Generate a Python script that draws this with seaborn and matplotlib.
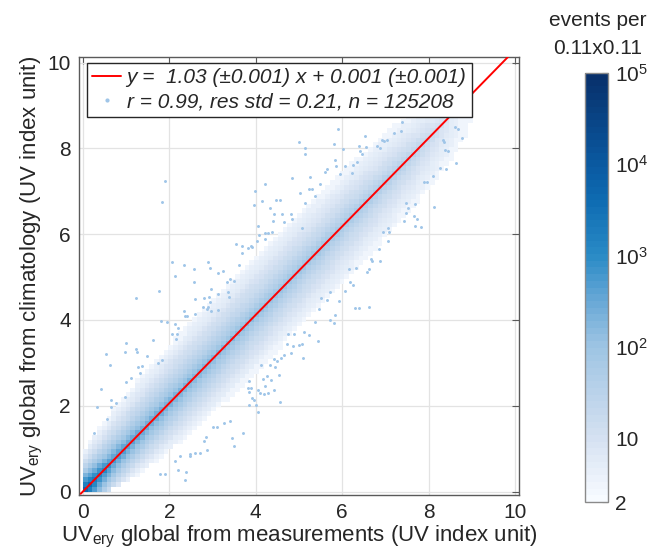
import numpy as np
import pandas as pd
import matplotlib
matplotlib.use("Agg")
import matplotlib.pyplot as plt
import seaborn as sns
from matplotlib.colors import LogNorm, LinearSegmentedColormap
from matplotlib.lines import Line2D

# ---------------- data ----------------
bin_width = 0.11
# density along the 1:1 diagonal (position s = (x+y)/2)
ridge_s = [0.0, 0.3, 0.7, 1.5, 2.5, 3.5, 4.5, 5.5, 6.5, 7.5, 8.2, 8.7, 9.1]
core_peak = [5000, 1500, 500, 250, 150, 100, 70, 50, 35, 20, 6, 0, 0]      # narrow ridge on the line
halo_level = [800, 350, 180, 120, 90, 70, 55, 45, 35, 22, 12, 4, 2]       # broad band around it
spread_up = [0.35, 0.8, 1.05, 1.25, 1.35, 1.4, 1.4, 1.35, 1.3, 1.2, 1.05, 0.75, 0.3]
spread_down = [0.3, 0.6, 0.9, 1.15, 1.3, 1.35, 1.35, 1.35, 1.3, 1.2, 1.05, 0.75, 0.3]

fit_slope = 1.03
fit_intercept = 0.001
fit_xrange = [-0.05, 10.1]

legend_fit = "y =  1.03 (\u00b10.001) x + 0.001 (\u00b10.001)"
legend_stats = "r = 0.99, res std = 0.21, n = 125208"

# isolated events (bins with a single event)
single_x = [1.90, 1.82, 4.84, 5.00, 3.98, 4.22, 4.15, 3.96, 4.46, 4.57, 4.32, 4.43, 4.60, 4.82, 4.39,
            4.65, 4.84, 4.06, 4.08, 4.22, 4.28, 4.38, 4.22, 4.02, 3.54, 3.68, 3.88, 3.83, 3.91, 3.68,
            3.62, 2.06, 2.34, 2.12, 2.58, 2.58, 2.90, 2.93, 3.12, 3.25, 3.33, 3.41, 3.50, 1.76, 1.22,
            2.96, 3.13, 2.92, 2.81, 2.59, 3.37, 3.36,
            2.35, 2.41, 2.37, 2.60, 2.77, 2.90, 2.87, 2.96, 2.93, 3.13, 1.81, 1.95, 2.12, 2.19, 2.07,
            2.18, 2.16, 1.63, 1.00, 0.53, 0.97, 1.24, 1.25, 1.48, 1.73, 1.82, 0.63, 1.28, 1.36, 1.32,
            1.00, 1.12, 0.43, 0.98, 0.64, 0.76, 0.65, 0.32, 0.56, 0.26,
            4.74, 4.89, 4.72, 4.86, 4.99, 4.81, 4.65, 4.59, 4.49, 4.42, 4.33, 4.44, 4.54, 4.11, 4.16,
            4.27, 4.35, 4.22, 4.05, 4.10, 4.18, 4.28, 4.43, 3.84, 3.81, 3.90, 3.85, 3.91, 3.96, 3.85,
            4.00, 4.05, 4.55, 3.02, 3.10, 3.27, 3.41, 3.71, 3.44, 3.49, 2.85, 2.80, 2.87, 2.70, 2.59,
            2.48, 2.48, 2.25, 2.13, 2.21, 2.39, 2.36, 1.79, 1.91,
            5.91, 7.39, 7.19, 7.36, 6.92, 6.97, 7.03, 6.52, 6.38, 6.54, 6.80, 6.88, 5.81, 6.01, 5.13,
            5.13, 6.41, 6.45, 6.35, 6.26, 6.06, 5.84, 5.86, 5.95, 6.22, 5.64, 5.60, 5.26, 5.48, 5.24,
            5.30, 5.03, 5.36, 5.13, 5.07,
            8.34, 8.36, 8.61, 8.68, 8.78, 8.38, 8.44, 8.64, 8.27, 8.41, 8.11, 7.90, 7.96, 8.12, 7.48,
            7.53, 7.69, 7.47, 7.65, 7.74, 7.69, 7.82, 7.43, 7.05, 7.08, 6.95,
            7.06, 6.84, 6.66, 6.70, 6.88, 6.16, 6.31, 6.62, 6.58, 6.18, 6.24, 6.07, 5.72, 5.51, 5.64,
            5.93, 5.47, 6.30, 6.38, 6.63, 5.84, 5.72, 5.80, 5.36, 5.11, 5.22, 5.06, 5.45, 5.10]
single_y = [7.24, 6.75, 7.30, 8.14, 7.01, 7.16, 6.78, 6.67, 6.79, 6.79, 6.60, 6.46, 6.46, 6.46, 6.31,
            6.29, 6.36, 6.18, 5.98, 6.02, 6.02, 6.04, 5.89, 5.83, 5.78, 5.73, 5.72, 5.67, 5.69, 5.55,
            5.29, 5.34, 5.28, 5.03, 5.19, 4.89, 5.35, 5.22, 5.10, 5.14, 4.89, 4.96, 4.90, 4.67, 4.51,
            4.72, 4.60, 4.54, 4.51, 4.50, 4.54, 4.66,
            4.22, 4.09, 4.09, 4.15, 4.30, 4.31, 4.25, 4.21, 4.42, 4.23, 3.98, 3.95, 3.90, 3.82, 3.68,
            3.68, 3.56, 3.54, 3.47, 3.21, 3.25, 3.32, 3.26, 3.15, 3.00, 3.07, 2.94, 2.90, 2.92, 2.77,
            2.55, 2.65, 2.40, 2.20, 2.13, 2.06, 1.96, 1.98, 1.68, 1.36,
            3.67, 3.68, 3.43, 3.40, 3.42, 3.22, 3.18, 3.11, 3.04, 3.10, 2.96, 2.90, 2.72, 2.94, 2.62,
            2.69, 2.59, 2.47, 2.37, 2.29, 2.27, 2.29, 2.36, 2.58, 2.41, 2.41, 2.31, 2.17, 2.13, 2.02,
            2.02, 1.85, 2.09, 1.50, 1.50, 1.59, 1.65, 1.36, 1.25, 1.07, 1.27, 1.18, 0.96, 0.91, 0.91,
            0.87, 0.83, 0.82, 0.72, 0.50, 0.45, 0.26, 0.42, 0.42,
            8.46, 8.62, 8.37, 8.40, 8.20, 8.18, 8.19, 8.28, 8.05, 8.04, 8.06, 8.00, 8.11, 7.98, 8.01,
            7.86, 7.93, 7.86, 7.69, 7.61, 7.58, 7.73, 7.60, 7.40, 7.42, 7.52, 7.44, 7.33, 7.18, 7.06,
            7.06, 6.96, 6.89, 6.72, 6.14,
            8.20, 8.15, 8.49, 8.46, 8.24, 7.97, 7.94, 7.67, 7.54, 7.51, 7.35, 7.21, 7.22, 6.64, 6.72,
            6.62, 6.71, 6.49, 6.43, 6.35, 6.19, 6.17, 6.30, 6.15, 6.04, 6.05,
            5.84, 5.65, 5.42, 5.38, 5.38, 5.19, 5.20, 5.19, 5.11, 4.89, 4.81, 4.68, 4.65, 4.51, 4.47,
            4.44, 4.26, 4.27, 4.27, 4.30, 4.12, 4.00, 3.92, 3.96, 3.72, 3.65, 3.43, 3.51, 3.12]

cbar_ticks = [2, 10, 100, 1000, 10000, 100000]
cbar_ticklabels = ["2", "10", "$10^2$", "$10^3$", "$10^4$", "$10^5$"]
axis_ticks = [0, 2, 4, 6, 8, 10]

# ---------------- build the binned table ----------------
edges = np.round(np.arange(0, 10.0 + 1e-9, bin_width), 4)
centers = edges[:-1] + bin_width / 2
gx, gy = np.meshgrid(centers, centers)
s = (gx + gy) / 2
d = gy - (fit_slope * gx + fit_intercept)
core = np.interp(s, ridge_s, core_peak, right=0)
halo = np.interp(s, ridge_s, halo_level, right=0)
hw = np.where(d >= 0, np.interp(s, ridge_s, spread_up), np.interp(s, ridge_s, spread_down))
frac = np.abs(d) / hw
halo_c = np.where(halo >= 2.5, halo * (2.5 / np.maximum(halo, 2.5)) ** frac, 0)
core_c = core * np.exp(-np.abs(d) / 0.12)
counts = np.where(frac <= 1, np.round(halo_c + core_c), 0)
df = pd.DataFrame({"x": gx.ravel(), "y": gy.ravel(), "n": counts.ravel()})
df = df[df["n"] >= 2]

# ---------------- style ----------------
sns.set_style("white")
plt.rcParams["font.family"] = ["Liberation Sans", "DejaVu Sans"]
plt.rcParams["mathtext.fontset"] = "custom"
plt.rcParams["mathtext.rm"] = "Liberation Sans"
plt.rcParams["mathtext.it"] = "Liberation Sans:italic"
plt.rcParams["mathtext.default"] = "regular"

cmap = LinearSegmentedColormap.from_list(
    "uvblues",
    [(0.0, "#f7fbff"), (0.149, "#d4e0f1"), (0.362, "#9dc4e3"), (0.48, "#62a5d5"),
     (0.574, "#2a8bc6"), (0.70, "#0f6db3"), (0.787, "#0a5aa2"), (1.0, "#08306b")],
    N=64)
norm = LogNorm(vmin=2, vmax=1e5)

fig = plt.figure(figsize=(6.51, 5.60), dpi=100)
ax = fig.add_axes([79 / 651, 1 - 495 / 560, 440 / 651, 438 / 560])

sns.histplot(data=df, x="x", y="y", weights="n", bins=edges.tolist(), thresh=1,
             cmap=cmap, ax=ax, zorder=1)
mesh = ax.collections[-1]
mesh.set_norm(norm)

sns.scatterplot(x=single_x, y=single_y, color="#9fc5e8", s=4.5, linewidth=0,
                marker="o", ax=ax, zorder=2)

line_x = np.array(fit_xrange)
sns.lineplot(x=line_x, y=fit_slope * line_x + fit_intercept, color="#ff0000",
             linewidth=1.4, ax=ax, zorder=3)

ax.set_xlim(-0.09, 10.09)
ax.set_ylim(-0.08, 10.13)
ax.set_xticks(axis_ticks)
ax.set_yticks(axis_ticks)
ax.grid(True, color="#e3e3e3", linewidth=0.9)
ax.set_axisbelow(True)
ax.tick_params(direction="in", length=5, width=0.8, colors="#5a5a5a",
               labelcolor="#262626", labelsize=15, top=True, right=True, pad=6)
for sp in ax.spines.values():
    sp.set_color("#5a5a5a")
    sp.set_linewidth(1.0)

ax.set_xlabel("UV$_{\\rm ery}$ global from measurements (UV index unit)", fontsize=16,
              color="#262626", labelpad=1)
ax.set_ylabel("UV$_{\\rm ery}$ global from climatology (UV index unit)", fontsize=16,
              color="#262626", labelpad=2)

handles = [Line2D([], [], color="#ff0000", lw=1.4),
           Line2D([], [], color="#9fc5e8", marker=".", ls="none", markersize=4)]
leg = ax.legend(handles, [legend_fit, legend_stats], loc="upper left",
                bbox_to_anchor=(0.018, 0.986), borderaxespad=0, fancybox=False,
                edgecolor="#262626", framealpha=1, handlelength=1.4, handletextpad=0.25,
                borderpad=0.25, labelspacing=0.25,
                prop={"family": "Liberation Sans", "style": "italic", "size": 15})
leg.get_frame().set_linewidth(1.0)
for t in leg.get_texts():
    t.set_color("#262626")

cax = fig.add_axes([585 / 651, 1 - 502 / 560, 23 / 651, 429 / 560])
cb = fig.colorbar(mesh, cax=cax)
cb.set_ticks(cbar_ticks)
cb.set_ticklabels(cbar_ticklabels)
cb.ax.minorticks_off()
cb.ax.tick_params(direction="in", length=4, width=0.8, colors="#5a5a5a",
                  labelcolor="#262626", labelsize=15, pad=5)
cb.outline.set_edgecolor("#8a8a8a")
cb.outline.set_linewidth(1.0)

fig.text(598 / 651, 1 - 20 / 560, "events per", ha="center", va="center", fontsize=15,
         color="#262626")
fig.text(598 / 651, 1 - 48 / 560, "0.11x0.11", ha="center", va="center", fontsize=15,
         color="#262626")

fig.savefig("out.png", dpi=100, facecolor="white")
